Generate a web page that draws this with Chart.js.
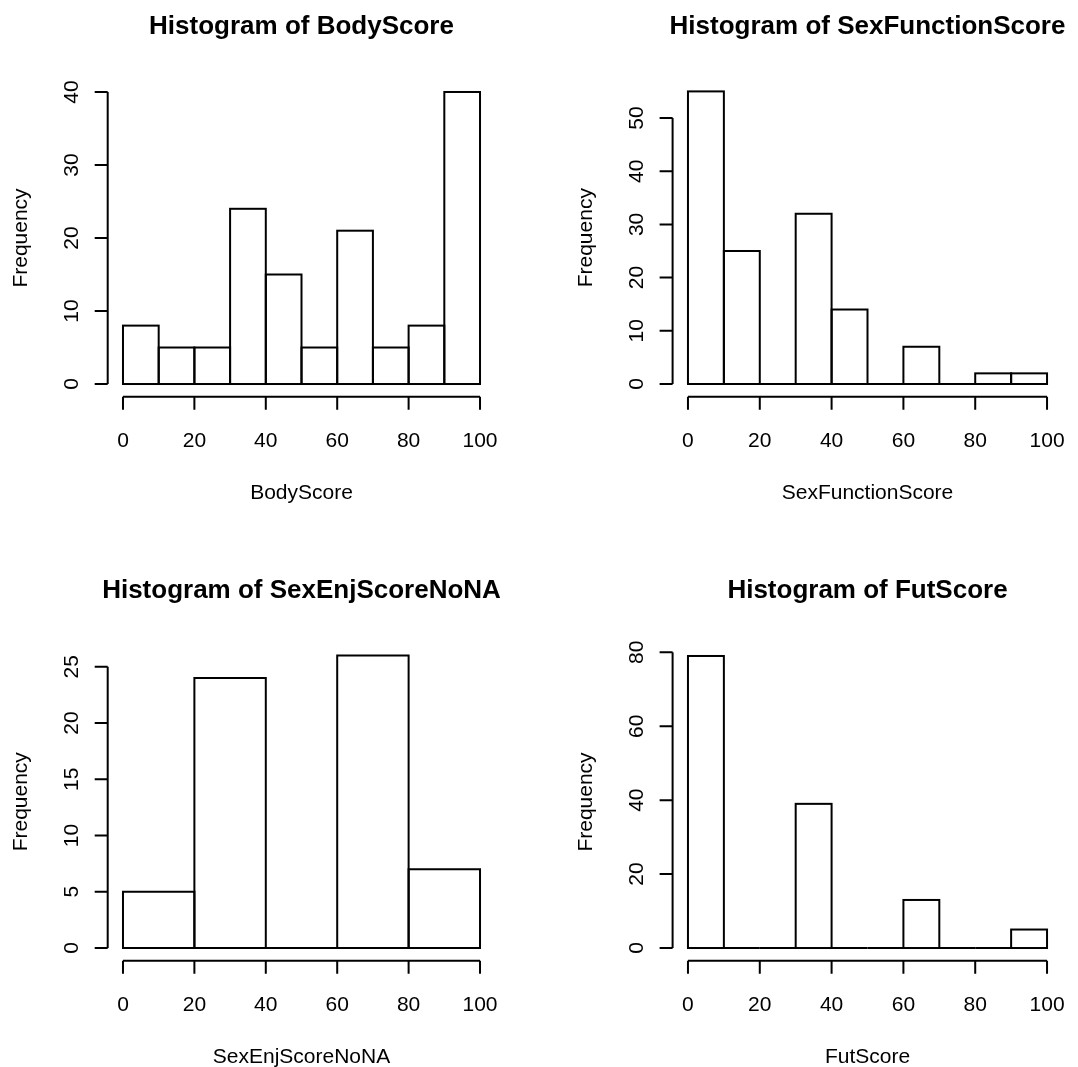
<!DOCTYPE html>
<html>
<head>
<meta charset="utf-8">
<script src="https://cdn.jsdelivr.net/npm/chart.js@4.4.0/dist/chart.umd.min.js"></script>
<style>
html,body{margin:0;padding:0;background:#fff;}
#wrap{position:relative;width:1078px;height:1067px;overflow:hidden;}
#wrap canvas{position:absolute;left:0;top:0;}
</style>
</head>
<body>
<div id="wrap">
<canvas id="body" width="1078" height="1067"></canvas>
<canvas id="sexFunction" width="1078" height="1067"></canvas>
<canvas id="sexEnj" width="1078" height="1067"></canvas>
<canvas id="fut" width="1078" height="1067"></canvas>
</div>
<script>
// bin edges and counts
const bodyBreaks = [0,10,20,30,40,50,60,70,80,90,100];
const bodyCounts = [8,5,5,24,15,5,21,5,8,40];
const sexFunctionBreaks = [0,10,20,30,40,50,60,70,80,90,100];
const sexFunctionCounts = [55,25,0,32,14,0,7,0,2,2];
const sexEnjBreaks = [0,20,40,60,80,100];
const sexEnjCounts = [5,24,0,26,7];
const futBreaks = [0,10,20,30,40,50,60,70,80,90,100];
const futCounts = [79,0,0,39,0,0,13,0,0,5];

const xTicks = [0,20,40,60,80,100];
const bodyYTicks = [0,10,20,30,40];
const sexFunctionYTicks = [0,10,20,30,40,50];
const sexEnjYTicks = [0,5,10,15,20,25];
const futYTicks = [0,20,40,60,80];

const FONT = "'Liberation Sans', Arial, sans-serif";
const INK = '#000';

// R base graphics look: outlined bars, detached axes, rotated y labels
const rStyle = {
  id:'rStyle',
  afterDatasetsDraw(chart, args, opts){
    const ctx = chart.ctx;
    const xs = chart.scales.x, ys = chart.scales.y;
    const a = chart.chartArea;
    const cx = (a.left + a.right) / 2, cy = (a.top + a.bottom) / 2;
    ctx.save();
    ctx.strokeStyle = INK;
    ctx.fillStyle = INK;
    ctx.lineWidth = 2;

    chart.getDatasetMeta(0).data.forEach(bar => {
      const p = bar.getProps(['x','y','base','width'], true);
      ctx.strokeRect(p.x - p.width/2, p.y, p.width, p.base - p.y);
    });

    // x axis
    const xa = a.bottom + 1;
    ctx.beginPath();
    ctx.moveTo(xs.getPixelForValue(opts.xTicks[0]), xa);
    ctx.lineTo(xs.getPixelForValue(opts.xTicks[opts.xTicks.length-1]), xa);
    opts.xTicks.forEach(v => {
      const px = xs.getPixelForValue(v);
      ctx.moveTo(px, xa);
      ctx.lineTo(px, xa + 13);
    });
    ctx.stroke();

    // y axis
    const ya = a.left - 1;
    ctx.beginPath();
    ctx.moveTo(ya, ys.getPixelForValue(opts.yTicks[0]));
    ctx.lineTo(ya, ys.getPixelForValue(opts.yTicks[opts.yTicks.length-1]));
    opts.yTicks.forEach(v => {
      const py = ys.getPixelForValue(v);
      ctx.moveTo(ya, py);
      ctx.lineTo(ya - 13, py);
    });
    ctx.stroke();

    ctx.textAlign = 'center';
    ctx.textBaseline = 'middle';
    ctx.font = '21px ' + FONT;
    opts.xTicks.forEach(v => {
      ctx.fillText(String(v), xs.getPixelForValue(v), a.bottom + 46);
    });
    ctx.fillText(opts.xTitle, cx, a.bottom + 98);

    opts.yTicks.forEach(v => {
      ctx.save();
      ctx.translate(a.left - 36, ys.getPixelForValue(v));
      ctx.rotate(-Math.PI/2);
      ctx.fillText(String(v), 0, 0);
      ctx.restore();
    });
    ctx.save();
    ctx.translate(a.left - 87, cy);
    ctx.rotate(-Math.PI/2);
    ctx.fillText('Frequency', 0, 0);
    ctx.restore();

    ctx.font = 'bold 26px ' + FONT;
    ctx.fillText(opts.title, cx, a.top - 53);
    ctx.restore();
  }
};

function createHistogram(id, breaks, counts, yTicks, name, pad){
  const points = counts.map((c,i) => ({x:(breaks[i] + breaks[i+1]) / 2, y:c}));
  const top = Math.max(...counts);
  const lo = breaks[0], hi = breaks[breaks.length-1];
  const span = hi - lo;

  new Chart(document.getElementById(id), {
    type:'bar',
    data:{
      datasets:[{
        data:points,
        backgroundColor:'#fff',
        borderWidth:0,
        barPercentage:1,
        categoryPercentage:1
      }]
    },
    options:{
      responsive:false,
      animation:false,
      devicePixelRatio:1,
      layout:{padding:pad},
      plugins:{
        legend:{display:false},
        tooltip:{enabled:false},
        rStyle:{xTicks:xTicks, yTicks:yTicks, xTitle:name, title:'Histogram of ' + name}
      },
      scales:{
        x:{
          type:'linear', display:false, offset:false,
          min:lo - 0.04*span, max:hi + 0.04*span,
          afterBuildTicks:s => { s.ticks = xTicks.map(v => ({value:v})); }
        },
        y:{
          type:'linear', display:false,
          min:-0.04*top, max:1.04*top,
          afterBuildTicks:s => { s.ticks = yTicks.map(v => ({value:v})); }
        }
      }
    },
    plugins:[rStyle]
  });
}

createHistogram('body', bodyBreaks, bodyCounts, bodyYTicks, 'BodyScore',
  {left:108.7, top:80.3, right:583.7, bottom:671.3});
createHistogram('sexFunction', sexFunctionBreaks, sexFunctionCounts, sexFunctionYTicks, 'SexFunctionScore',
  {left:673.6, top:79.7, right:16.6, bottom:671.3});
createHistogram('sexEnj', sexEnjBreaks, sexEnjCounts, sexEnjYTicks, 'SexEnjScoreNoNA',
  {left:108.7, top:643.8, right:583.7, bottom:107.3});
createHistogram('fut', futBreaks, futCounts, futYTicks, 'FutScore',
  {left:673.6, top:644.3, right:16.6, bottom:107.3});
</script>
</body>
</html>
